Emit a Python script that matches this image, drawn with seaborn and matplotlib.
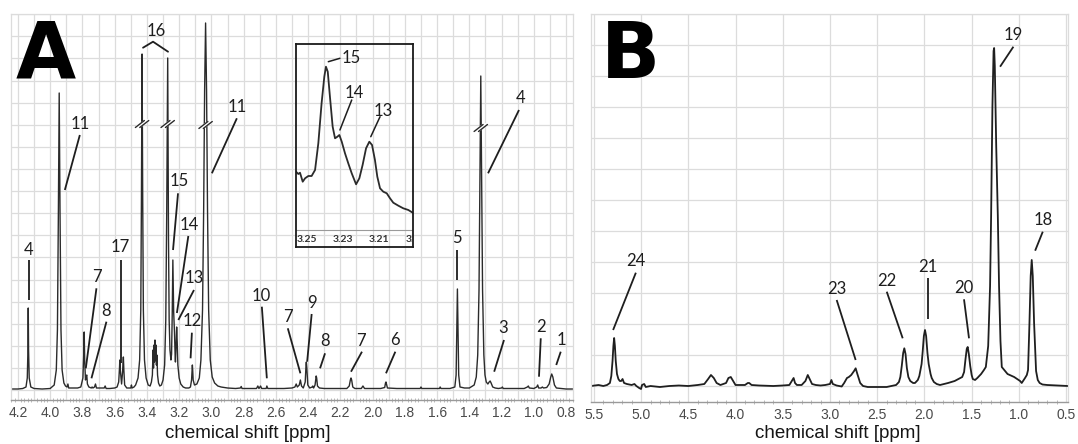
import numpy as np
import matplotlib
matplotlib.use("Agg")
import matplotlib.pyplot as plt
import seaborn as sns
from matplotlib.ticker import FixedLocator, MultipleLocator, FuncFormatter

# spectrum A: (chemical shift ppm, intensity)
SPEC_A = [
    (4.243, 1), (4.20, 1), (4.17, 1.5), (4.15, 3), (4.142, 12), (4.138, 40), (4.136, 82),
    (4.134, 40), (4.130, 12), (4.12, 3), (4.10, 1.5), (4.05, 1), (4.00, 1.5), (3.975, 5),
    (3.962, 20), (3.955, 60), (3.949, 180), (3.944, 297), (3.939, 180), (3.933, 60),
    (3.926, 20), (3.915, 7), (3.905, 4), (3.895, 3), (3.89, 6), (3.885, 2), (3.86, 2),
    (3.83, 2), (3.81, 3), (3.797, 12), (3.792, 35), (3.789, 58), (3.786, 30), (3.781, 10),
    (3.776, 14), (3.773, 15), (3.769, 6), (3.76, 3), (3.745, 2), (3.74, 3), (3.735, 2),
    (3.725, 3), (3.719, 6), (3.713, 2), (3.69, 2), (3.665, 2), (3.659, 4), (3.653, 1.5),
    (3.63, 1.5), (3.60, 2), (3.585, 3), (3.575, 8), (3.570, 22), (3.568, 30), (3.565, 20),
    (3.557, 6), (3.551, 18), (3.546, 33), (3.543, 20), (3.538, 5), (3.525, 2), (3.50, 2),
    (3.496, 5), (3.492, 2), (3.48, 3), (3.47, 5), (3.455, 12), (3.445, 30), (3.438, 80),
    (3.434, 190), (3.430, 336), (3.426, 190), (3.422, 80), (3.415, 30), (3.405, 12),
    (3.392, 5), (3.38, 4), (3.372, 8), (3.366, 15), (3.362, 40), (3.359, 22), (3.356, 45),
    (3.353, 28), (3.350, 50), (3.347, 30), (3.344, 45), (3.341, 25), (3.338, 35),
    (3.334, 15), (3.328, 7), (3.32, 4), (3.31, 5), (3.30, 10), (3.29, 25), (3.283, 70),
    (3.277, 180), (3.271, 332), (3.266, 150), (3.262, 70), (3.257, 40), (3.251, 30),
    (3.247, 36), (3.243, 75), (3.239, 130), (3.236, 100), (3.234, 78), (3.232, 70),
    (3.229, 58), (3.225, 35), (3.223, 28), (3.219, 45), (3.2155, 63), (3.212, 48),
    (3.208, 25), (3.20, 12), (3.19, 6), (3.175, 3), (3.16, 2), (3.14, 2), (3.13, 3),
    (3.123, 10), (3.120, 20), (3.118, 25), (3.116, 20), (3.113, 10), (3.105, 5), (3.09, 6),
    (3.075, 12), (3.065, 30), (3.055, 80), (3.048, 180), (3.042, 300), (3.036, 367),
    (3.030, 300), (3.024, 180), (3.017, 80), (3.007, 30), (2.995, 13), (2.98, 7),
    (2.96, 4), (2.94, 3), (2.90, 2), (2.85, 1.5), (2.82, 2), (2.815, 3.5), (2.81, 1.5),
    (2.76, 1.5), (2.72, 1.5), (2.712, 4), (2.705, 1.5), (2.695, 4), (2.688, 1.5),
    (2.66, 1.5), (2.656, 4), (2.65, 1.5), (2.60, 1.5), (2.55, 1.5), (2.50, 2), (2.482, 3),
    (2.474, 6), (2.467, 3), (2.455, 5), (2.448, 10), (2.441, 4), (2.43, 2), (2.418, 8),
    (2.413, 25), (2.411, 28), (2.408, 22), (2.402, 5), (2.39, 2), (2.375, 3), (2.371, 4),
    (2.366, 2), (2.357, 5), (2.352, 12), (2.350, 14), (2.347, 12), (2.342, 4), (2.33, 2),
    (2.30, 1.5), (2.25, 1.5), (2.20, 1.5), (2.16, 1.5), (2.145, 4), (2.138, 10),
    (2.134, 12), (2.130, 10), (2.123, 3), (2.11, 1.5), (2.07, 1.5), (2.06, 4), (2.05, 1.5),
    (2.00, 1.5), (1.95, 1.5), (1.925, 2.5), (1.920, 7), (1.917, 8), (1.914, 6), (1.908, 2),
    (1.85, 1.5), (1.80, 1.5), (1.75, 1.5), (1.705, 1.5), (1.70, 3), (1.695, 1.5),
    (1.65, 1.5), (1.585, 1.5), (1.581, 3), (1.576, 1.5), (1.52, 1.5), (1.49, 3),
    (1.482, 15), (1.478, 55), (1.474, 101), (1.470, 55), (1.466, 15), (1.458, 3),
    (1.43, 2), (1.40, 2), (1.37, 5), (1.357, 13), (1.348, 35), (1.340, 100), (1.334, 220),
    (1.329, 314), (1.324, 220), (1.318, 100), (1.310, 35), (1.303, 15), (1.295, 8),
    (1.285, 6), (1.277, 8), (1.271, 9), (1.265, 7), (1.255, 3), (1.24, 2), (1.22, 1.5),
    (1.20, 2), (1.195, 3), (1.19, 1.5), (1.15, 1.5), (1.10, 1.5), (1.06, 1.5), (1.04, 3),
    (1.034, 4), (1.028, 2), (1.00, 1.5), (0.982, 3), (0.976, 5), (0.97, 2), (0.955, 2),
    (0.947, 3), (0.94, 2), (0.92, 2.5), (0.905, 6), (0.895, 13), (0.889, 16), (0.882, 13),
    (0.872, 5), (0.86, 2), (0.83, 1.5), (0.80, 1), (0.757, 1),
]

# zoomed inset of the 3.19-3.26 ppm region
SPEC_INSET = [
    (3.2559, 58.3), (3.2546, 56), (3.2537, 57.3), (3.2522, 48.3), (3.2509, 51.7),
    (3.2491, 54), (3.2473, 54), (3.2454, 60), (3.2436, 86.7), (3.2418, 126.7),
    (3.2403, 153.3), (3.2394, 163.3), (3.2384, 158.3), (3.2372, 133.3), (3.2357, 103.3),
    (3.2344, 91.7), (3.2331, 93.3), (3.2320, 95), (3.2307, 88.3), (3.2289, 76.7),
    (3.2271, 66.7), (3.2252, 56.7), (3.2228, 45.7), (3.2210, 51.7), (3.2192, 65),
    (3.2173, 81.7), (3.2155, 88.3), (3.2140, 85), (3.2124, 70), (3.2111, 53.3),
    (3.2096, 41.7), (3.2078, 38.3), (3.2059, 36.7), (3.2041, 31.7), (3.2023, 27.3),
    (3.1995, 24.3), (3.1968, 21.7), (3.1940, 20), (3.1916, 17.3),
]

# spectrum B
SPEC_B = [
    (5.53, 0), (5.45, 1), (5.40, 0), (5.36, 1), (5.33, 3), (5.315, 10), (5.302, 25),
    (5.293, 40), (5.285, 48), (5.277, 40), (5.268, 25), (5.255, 12), (5.24, 7),
    (5.225, 5), (5.21, 5), (5.196, 7), (5.18, 3), (5.15, 2), (5.10, 1), (5.07, 2),
    (5.05, 0), (5.02, -2), (5.00, -3), (4.99, 1), (4.967, 2), (4.95, -1), (4.90, 0),
    (4.80, -1), (4.70, 0), (4.60, 0.5), (4.50, 0), (4.40, 1), (4.33, 2), (4.29, 7),
    (4.26, 11), (4.23, 8), (4.20, 3), (4.16, 1), (4.10, 3), (4.075, 8), (4.05, 9),
    (4.025, 5), (4.00, 1), (3.95, 1), (3.90, 1), (3.87, 3), (3.855, 3), (3.83, 1),
    (3.75, 0.5), (3.60, 0), (3.50, 0.5), (3.43, 1), (3.405, 5), (3.385, 8), (3.37, 3),
    (3.35, 1), (3.30, 1), (3.26, 5), (3.235, 11), (3.215, 7), (3.19, 2), (3.15, 1),
    (3.10, 0.5), (3.05, 1), (3.00, 2), (2.985, 6), (2.97, 2), (2.93, 0.5), (2.876, -0.5),
    (2.85, 3), (2.82, 8), (2.80, 9), (2.775, 11), (2.745, 15), (2.728, 17.7), (2.71, 12),
    (2.68, 3), (2.65, 0), (2.60, -1), (2.50, -1), (2.40, -1), (2.30, 1), (2.27, 4),
    (2.255, 9), (2.24, 20), (2.225, 33), (2.213, 37.7), (2.20, 32), (2.186, 18),
    (2.17, 9), (2.15, 5), (2.12, 3), (2.10, 3), (2.07, 6), (2.054, 10), (2.03, 22),
    (2.018, 35), (2.006, 50), (1.994, 56), (1.982, 50), (1.968, 33), (1.955, 22),
    (1.935, 12), (1.923, 8), (1.90, 4), (1.87, 2), (1.835, 1), (1.75, 3), (1.68, 5),
    (1.62, 8), (1.60, 9), (1.58, 14), (1.565, 27), (1.552, 37), (1.542, 39), (1.53, 32),
    (1.515, 20), (1.50, 11), (1.488, 7), (1.464, 6), (1.44, 8), (1.40, 12), (1.37, 16),
    (1.35, 19), (1.325, 40), (1.305, 100), (1.294, 170), (1.28, 280), (1.268, 335),
    (1.262, 338), (1.255, 320), (1.24, 240), (1.223, 170), (1.21, 100), (1.195, 45),
    (1.181, 19), (1.12, 12), (1.05, 9), (0.987, 5), (0.97, 3), (0.935, 8), (0.916, 11),
    (0.903, 16), (0.888, 63), (0.875, 110), (0.864, 126), (0.853, 110), (0.839, 63),
    (0.818, 15), (0.80, 6), (0.78, 3), (0.75, 1.5), (0.70, 1), (0.60, 0.5), (0.48, 0),
]

# peak labels: text, text x, text y, leader start x, y, leader end x, y
LABELS_A = [
    ("4", 4.132, 141.7, 4.132, 130, 4.132, 90),
    ("11", 3.816, 267.3, 3.816, 255, 3.909, 200),
    ("7", 3.713, 115, 3.713, 101.7, 3.779, 21.7),
    ("8", 3.651, 80.7, 3.651, 68.3, 3.744, 11.7),
    ("17", 3.564, 145, 3.558, 130, 3.558, 26.7),
    ("15", 3.197, 210, 3.207, 196.7, 3.238, 140),
    ("14", 3.139, 167, 3.143, 154, 3.214, 77),
    ("13", 3.108, 113.3, 3.108, 100, 3.205, 70),
    ("12", 3.118, 70.7, 3.121, 57.3, 3.129, 31.7),
    ("11", 2.842, 284, 2.842, 271.7, 2.997, 216.7),
    ("10", 2.691, 95.7, 2.687, 83.3, 2.656, 11.7),
    ("7", 2.526, 75, 2.526, 61.7, 2.448, 16.7),
    ("9", 2.378, 89, 2.378, 76, 2.406, 28.3),
    ("8", 2.293, 50.7, 2.295, 36.7, 2.326, 21.7),
    ("7", 2.072, 50.7, 2.066, 38.3, 2.134, 18.3),
    ("6", 1.859, 51.7, 1.859, 38.3, 1.917, 16.7),
    ("5", 1.480, 153.3, 1.477, 140, 1.477, 110),
    ("4", 1.081, 293.3, 1.092, 280, 1.284, 216.7),
    ("3", 1.191, 63.3, 1.185, 50, 1.246, 18.3),
    ("2", 0.957, 65, 0.957, 51.7, 0.968, 13.3),
    ("1", 0.830, 51.7, 0.833, 38.3, 0.861, 25),
]
BRACKET_16 = [(3.424, 342.3), (3.362, 348.3), (3.269, 338.3)]
LABEL_16 = (3.341, 360)
BREAKS_A = [(3.430, 266), (3.271, 266), (3.036, 265), (1.329, 262)]

LABELS_B = [
    ("24", 5.058, 126, 5.055, 113.3, 5.296, 56),
    ("23", 2.929, 98.7, 2.929, 86, 2.728, 26),
    ("22", 2.399, 106.7, 2.399, 94.3, 2.230, 47.7),
    ("21", 1.965, 120.3, 1.965, 107.7, 1.965, 66.7),
    ("20", 1.581, 99.3, 1.581, 86.7, 1.528, 47.7),
    ("19", 1.058, 352.7, 1.058, 339.3, 1.199, 319.3),
    ("18", 0.740, 167.7, 0.747, 154.3, 0.828, 135.3),
]

LABELS_INSET = [
    ("15", 3.2306, 173.3, 3.2381, 168.3, 3.2317, 171.7, "left"),
    ("14", 3.2239, 138.3, 3.2252, 130, 3.2317, 100, "center"),
    ("13", 3.2078, 120, 3.2096, 113.3, 3.2147, 93.3, "center"),
]
INSET_TICKS = [3.25, 3.23, 3.21, 3.19]

LINE = "#2b2b2b"
GRID = "#dcdcdc"
TICKFONT = dict(family="Liberation Sans", size=10, color="#4a4a4a")
LABFONT = dict(family="Lato", size=12, color="#1e1e1e")

sns.set_theme(style="white")
plt.rcParams["font.family"] = ["Lato", "DejaVu Sans"]

fig = plt.figure(figsize=(10.78, 4.44), dpi=100)
axA = fig.add_axes([11 / 1078, 44 / 444, 562 / 1078, 386 / 444])
axB = fig.add_axes([591 / 1078, 42 / 444, 477 / 1078, 388 / 444])


def frame(ax, xlim, ylim, grid_x, label_every, minor, hgrid, label_xy):
    ax.set_xlim(*xlim)
    ax.set_ylim(*ylim)
    ax.xaxis.set_major_locator(FixedLocator(grid_x))
    ax.xaxis.set_minor_locator(MultipleLocator(minor))
    ax.xaxis.set_major_formatter(FuncFormatter(
        lambda v, p: "{:.1f}".format(v) if round(v / label_every, 3) % 1 == 0 else ""))
    ax.yaxis.set_major_locator(FixedLocator(hgrid))
    ax.set_yticklabels([])
    ax.tick_params(axis="y", length=0)
    ax.tick_params(axis="x", which="major", direction="inout", length=5, width=0.8,
                   color="#9a9a9a", pad=1.5)
    ax.tick_params(axis="x", which="minor", direction="inout", length=3, width=0.6,
                   color="#b0b0b0", bottom=True)
    for lab in ax.get_xticklabels():
        lab.set(**TICKFONT)
    ax.grid(True, which="major", color=GRID, lw=0.9)
    ax.set_axisbelow(True)
    for side in ["left", "right", "top"]:
        ax.spines[side].set_color(GRID)
        ax.spines[side].set_linewidth(0.9)
    ax.spines["bottom"].set_color("#9a9a9a")
    ax.spines["bottom"].set_linewidth(1.0)
    ax.set_xlabel("chemical shift [ppm]", family="Liberation Sans", size=13.5,
                  color="#151515")
    ax.xaxis.set_label_coords(*label_xy)
    ax.set_ylabel("")


def label_peaks(ax, labels):
    for txt, tx, ty, x0, y0, x1, y1 in labels:
        ax.plot([x0, x1], [y0, y1], color="#1e1e1e", lw=1.3, solid_capstyle="butt")
        ax.text(tx, ty, txt, ha="center", va="center_baseline", **LABFONT)


# panel A
a_ppm, a_int = zip(*SPEC_A)
sns.lineplot(x=list(a_ppm), y=list(a_int), ax=axA, sort=False, estimator=None,
             color=LINE, lw=1.0)
frame(axA, (4.243, 0.757), (-10, 376), np.round(np.arange(0.8, 4.21, 0.1), 2), 0.2, 0.02,
      np.arange(18) * 22.1, ((248 - 11) / 562, -0.064))
label_peaks(axA, LABELS_A)
bx, by = zip(*BRACKET_16)
axA.plot(bx, by, color="#1e1e1e", lw=1.3)
axA.text(LABEL_16[0], LABEL_16[1], "16", ha="center", va="center_baseline", **LABFONT)
for p, h in BREAKS_A:
    dx = 4.5 / 161.5
    s = 2.2 / 161.5
    axA.plot([p + dx, p - dx], [h - 3, h + 3], color="white", lw=3.0, zorder=4)
    for off in (-s, s):
        axA.plot([p + dx + off, p - dx + off], [h - 3.5, h + 3.5], color=LINE, lw=1.0, zorder=5)
axA.text((45.5 - 11) / 562, (400 - 77) / 386, "A", transform=axA.transAxes, ha="center",
         va="baseline", family="DejaVu Sans", weight="bold", size=56, color="black")

# inset
axI = fig.add_axes([296 / 1078, 197.3 / 444, 116.7 / 1078, 202.7 / 444])
axI.set_facecolor("none")
i_ppm, i_int = zip(*SPEC_INSET)
sns.lineplot(x=list(i_ppm), y=list(i_int), ax=axI, sort=False, estimator=None,
             color=LINE, lw=1.3)
axI.set_xlim(3.2559, 3.1916)
axI.set_ylim(-16.7, 186)
axI.set_xticks([])
axI.set_yticks([])
axI.set_xlabel("")
axI.set_ylabel("")
axI.axhline(0, color="#9a9a9a", lw=0.8)
for side in axI.spines.values():
    side.set_color("#1a1a1a")
    side.set_linewidth(1.3)
for t in INSET_TICKS:
    axI.text(t, -9, "{:.2f}".format(t), ha="center", va="center", clip_on=True,
             family="Lato", weight="bold", size=7.5, color="#333333")
for txt, tx, ty, x0, y0, x1, y1, ha in LABELS_INSET:
    axI.plot([x0, x1], [y0, y1], color="#1e1e1e", lw=1.1)
    axI.text(tx, ty, txt, ha=ha, va="center_baseline", **LABFONT)

# panel B
b_ppm, b_int = zip(*SPEC_B)
sns.lineplot(x=list(b_ppm), y=list(b_int), ax=axB, sort=False, estimator=None,
             color="#1f1f1f", lw=1.3)
frame(axB, (5.53, 0.48), (-16, 372), np.arange(0.5, 5.51, 0.5), 0.5, 0.1,
      np.arange(13) * 31.0, ((838 - 591) / 477, -0.058))
label_peaks(axB, LABELS_B)
axB.text((631 - 591) / 477, (402 - 78) / 388, "B", transform=axB.transAxes, ha="center",
         va="baseline", family="DejaVu Sans", weight="bold", size=56, color="black")

fig.savefig("out.png", dpi=100, facecolor="white")
